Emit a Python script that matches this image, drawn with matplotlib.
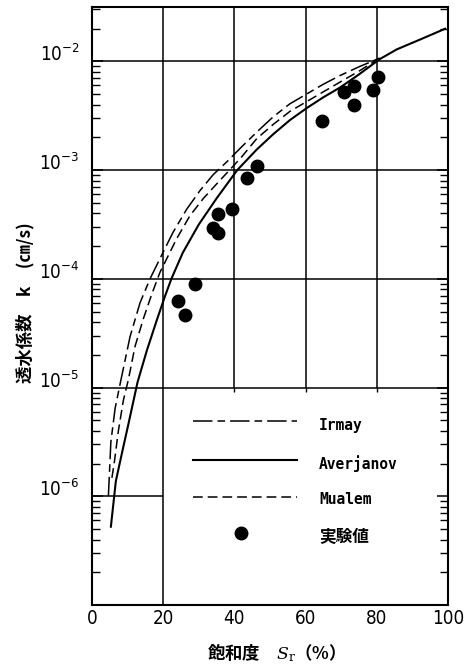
import matplotlib
matplotlib.use("Agg")
import matplotlib.pyplot as plt
import numpy as np
from matplotlib import font_manager
from matplotlib.ticker import LogLocator, NullFormatter

# degree of saturation Sr (%) and log10 of permeability k (cm/s)
irmay_sr = [4.6, 5.3, 6.5, 8.0, 10.7, 13.5, 16.3, 19.6, 22.8, 26.6, 30.3, 34.1,
            38.0, 41.6, 46.3, 50.9, 55.6, 60.3, 65.0, 69.7, 75.0, 80.8]
irmay_logk = [-6.00, -5.50, -5.19, -4.95, -4.53, -4.22, -4.00, -3.78, -3.57, -3.36,
              -3.19, -3.04, -2.92, -2.80, -2.65, -2.51, -2.39, -2.30, -2.21, -2.13,
              -2.05, -1.97]

averjanov_sr = [5.3, 6.7, 8.7, 10.2, 12.8, 15.4, 18.2, 20.5, 22.3, 25.5, 30.0, 35.0,
                40.8, 46.3, 50.9, 55.6, 60.3, 65.0, 69.7, 75.0, 80.8, 85.6, 92.1, 99.2]
averjanov_logk = [-6.28, -5.86, -5.56, -5.34, -4.95, -4.66, -4.38, -4.16, -4.00, -3.76,
                  -3.50, -3.26, -3.00, -2.81, -2.67, -2.54, -2.43, -2.33, -2.24, -2.12,
                  -1.98, -1.89, -1.80, -1.70]

mualem_sr = [5.6, 6.3, 7.4, 8.8, 10.2, 12.1, 14.4, 16.8, 19.1, 23.8, 27.5, 31.3,
             35.5, 39.2, 42.0, 46.3, 50.9, 55.6, 60.3, 65.0, 69.7, 75.0, 80.8]
mualem_logk = [-5.83, -5.68, -5.40, -5.12, -4.93, -4.62, -4.37, -4.14, -3.94, -3.63,
               -3.42, -3.26, -3.11, -2.98, -2.88, -2.71, -2.58, -2.46, -2.37, -2.28,
               -2.19, -2.09, -1.97]

test_sr = [24.2, 26.1, 28.9, 34.1, 35.5, 35.5, 39.4, 43.6, 46.4, 64.6, 70.8, 73.6,
           73.6, 78.8, 80.2]
test_logk = [-4.20, -4.33, -4.05, -3.53, -3.58, -3.40, -3.36, -3.07, -2.96, -2.55,
             -2.28, -2.23, -2.40, -2.26, -2.14]

x_ticks = [0, 20, 40, 60, 80, 100]
y_decades = [-6, -5, -4, -3, -2]
legend_labels = ["Irmay", "Averjanov", "Mualem", "実験値"]

IRMAY_DASH = (0, (14, 3.6, 5.5, 3.6))
MUALEM_DASH = (0, (7, 3.6))

# narrow face for the numbers if the system has one
ttf = font_manager.fontManager.ttflist
names = {f.name for f in ttf}
num_kw = dict(family="DejaVu Sans", fontsize=12.5)
if "Liberation Sans Narrow" in names:
    num_kw = dict(family="Liberation Sans Narrow", fontsize=14)
else:
    narrow = [f.stretch for f in ttf if f.name == "DejaVu Sans" and f.stretch != "normal"]
    if narrow:
        num_kw = dict(family="DejaVu Sans", stretch=narrow[0], fontsize=13.5)
CJK = ["Noto Sans CJK JP", "DejaVu Sans"]

plt.rcParams["lines.scale_dashes"] = False
plt.rcParams["mathtext.fontset"] = "dejavuserif"

YMIN, YMAX = 1e-7, 10 ** -1.5

fig = plt.figure(figsize=(4.69, 6.66), dpi=100)
ax = fig.add_axes([92 / 469, 1 - 605 / 666, 356 / 469, 598 / 666])
ax.set_yscale("log")
ax.set_xlim(0, 100)
ax.set_ylim(YMIN, YMAX)

# hand-drawn style grid: the legend box (Sr > 20, k < 1e-5) is kept clear
grid_kw = dict(color="black", linewidth=1.1, zorder=1)
ax.hlines([10.0 ** d for d in y_decades if d > -6], 0, 100, **grid_kw)
ax.hlines(1e-6, 0, 20, **grid_kw)
ax.vlines(20, YMIN, YMAX, **grid_kw)
ax.vlines([40, 60, 80], 1e-5, YMAX, **grid_kw)
ax.vlines([40, 60, 80], 10 ** -5.04, 1e-5, color="black", linewidth=1.0, zorder=1)

ax.plot(irmay_sr, 10.0 ** np.array(irmay_logk), color="black", lw=1.1,
        linestyle=IRMAY_DASH, zorder=3)
ax.plot(averjanov_sr, 10.0 ** np.array(averjanov_logk), color="black", lw=1.5,
        linestyle="-", zorder=3)
ax.plot(mualem_sr, 10.0 ** np.array(mualem_logk), color="black", lw=1.1,
        linestyle=MUALEM_DASH, zorder=3)
ax.plot(test_sr, 10.0 ** np.array(test_logk), "o", color="black", markersize=9,
        zorder=4)

# legend, drawn inside the lower right box
line_y = [0.308, 0.242, 0.181]
styles = [(IRMAY_DASH, 1.1), ("-", 1.5), (MUALEM_DASH, 1.1)]
for y, (ls, lw) in zip(line_y, styles):
    ax.plot([0.284, 0.576], [y, y], transform=ax.transAxes, color="black",
            linestyle=ls, lw=lw)
ax.plot([0.418], [0.120], "o", transform=ax.transAxes, color="black", markersize=9)
for y, label in zip([0.301, 0.237, 0.176], legend_labels[:3]):
    ax.text(0.638, y, label, transform=ax.transAxes, va="center", ha="left",
            family="DejaVu Sans Mono", fontsize=10.5, weight="bold")
ax.text(0.638, 0.114, legend_labels[3], transform=ax.transAxes, va="center",
        ha="left", family=CJK, fontsize=12, weight="bold")

for side in ax.spines.values():
    side.set_linewidth(1.5)

ax.set_xticks(x_ticks)
ax.set_xticklabels([str(v) for v in x_ticks], **num_kw)
ax.tick_params(axis="x", length=0, pad=3)

ax.set_yticks([10.0 ** d for d in y_decades])
ax.set_yticklabels([rf"$\mathregular{{10^{{{d}}}}}$" for d in y_decades], **num_kw)
ax.yaxis.set_minor_locator(LogLocator(base=10, subs=np.arange(2, 10)))
ax.yaxis.set_minor_formatter(NullFormatter())
ax.tick_params(axis="y", which="major", direction="in", length=8, width=1.1,
               right=True, pad=9)
ax.tick_params(axis="y", which="minor", direction="in", length=6, width=1.0,
               right=True)
for lab in ax.get_yticklabels():
    lab.set_verticalalignment("baseline")

ax.set_xlabel(r"飽和度　$S_\mathrm{r}$（%）", family=CJK, fontsize=12.5,
              weight="bold")
ax.xaxis.set_label_coords(0.506, -0.080)
ax.xaxis.label.set_verticalalignment("center")
ax.set_ylabel("透水係数　k　(㎝/s)", family=CJK, fontsize=12.5, weight="bold")
ax.yaxis.set_label_coords(-0.188, 0.505)
ax.yaxis.label.set_verticalalignment("center")

fig.savefig("out.png", dpi=100, facecolor="white")
